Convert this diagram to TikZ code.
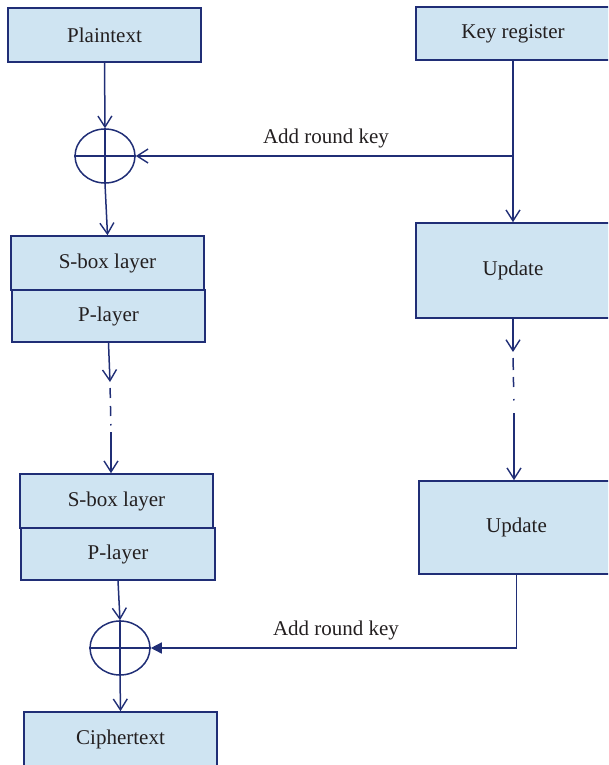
\documentclass[tikz,border=0pt]{standalone}
\usepackage{fontspec}
\setmainfont{Liberation Serif}
\usetikzlibrary{arrows.meta}
\definecolor{boxfill}{RGB}{207,228,242}
\definecolor{ink}{RGB}{32,46,118}
\definecolor{txt}{RGB}{35,31,32}
\begin{document}
\begin{tikzpicture}[x=1pt,y=-1pt,
  blk/.style={draw=ink,fill=boxfill,line width=1.6pt,inner sep=0pt,
    text=txt,font=\fontsize{21}{25}\selectfont},
  xorop/.style={draw=ink,line width=1.5pt,shape=circle,inner sep=0pt,minimum size=54pt,xscale=1.11},
  flow/.style={draw=ink,line width=1.5pt,-{Straight Barb[length=11pt,width=14pt,line width=1.4pt]}},
  plain/.style={draw=ink,line width=1.5pt},
  filledflow/.style={draw=ink,line width=1.5pt,-{Triangle[length=11pt,width=11pt]}},
  lbl/.style={text=txt,font=\fontsize{21}{25}\selectfont,inner sep=0pt,anchor=base}]
\useasboundingbox (0,0) rectangle (608,765);
\clip (0,0) rectangle (608,765);

% left column: data path
\node[blk,minimum width=193pt,minimum height=54pt] (pt) at (104.5,35) {Plaintext};
\node[blk,minimum width=193pt,minimum height=54pt] (sb1) at (107.5,263) {S-box layer};
\node[blk,minimum width=193pt,minimum height=52pt] (pl1) at (108.5,316) {P-layer};
\node[blk,minimum width=193pt,minimum height=54pt] (sb2) at (116.5,501) {S-box layer};
\node[blk,minimum width=194pt,minimum height=52pt] (pl2) at (118,554) {P-layer};
\node[blk,minimum width=193pt,minimum height=54pt] (ct) at (120.5,739) {Ciphertext};

% right column: key schedule
\node[blk,minimum width=194pt,minimum height=53pt] (kr) at (513,33.5) {Key register};
\node[blk,minimum width=194pt,minimum height=95pt] (up1) at (513,270.5) {Update};
\node[blk,minimum width=195pt,minimum height=93pt] (up2) at (516.5,527.5) {Update};

% XOR operators
\node[xorop] (x1) at (105,156) {};
\draw[plain] (x1.west) -- (x1.east) (x1.north) -- (x1.south);
\node[xorop] (x2) at (120,648) {};
\draw[plain] (x2.west) -- (x2.east) (x2.north) -- (x2.south);

% helper points on the connectors
\coordinate (k1) at (513,156);
\coordinate (d1) at (110,382);
\coordinate (d2) at (111,432);
\coordinate (d3) at (513,352);
\coordinate (d4) at (514,413);
\coordinate (k2) at (516.5,648);

% data path connectors
\draw[flow] (pt.south) -- (x1.north);
\draw[flow] (x1.south) -- (sb1.north);
\draw[flow] (pl1.south) -- (d1);
\draw[plain,dash pattern=on 0pt off 6pt on 10pt off 8pt on 10pt off 8pt on 1.5pt off 10pt] (d1) -- (d2);
\draw[flow] (d2) -- (d2 |- sb2.north);
\draw[flow] (pl2.south) -- (x2.north);
\draw[flow] (x2.south) -- (ct.north);

% key schedule connectors
\draw[flow] (kr.south) -- (up1.north);
\draw[flow] (k1) -- (x1.east);
\node[lbl] at (326,143) {Add round key};
\draw[flow] (up1.south) -- (d3);
\draw[plain,dash pattern=on 0pt off 6pt on 12pt off 7pt on 10pt off 12pt on 1.5pt off 20pt] (d3) -- (d4);
\draw[flow] (d4) -- (d4 |- up2.north);
\draw[plain] (up2.south) -- (k2);
\draw[filledflow] (k2) -- (x2.east);
\node[lbl] at (336,635) {Add round key};
\end{tikzpicture}
\end{document}
